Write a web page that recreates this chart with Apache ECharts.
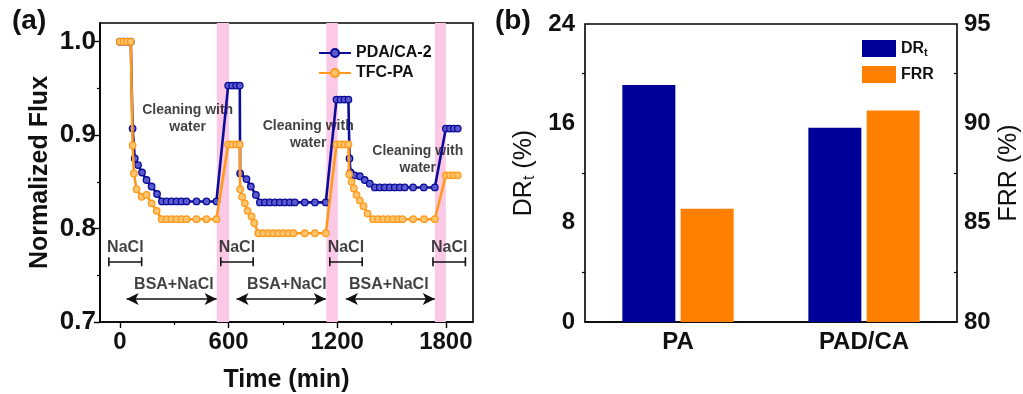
<!DOCTYPE html>
<html>
<head>
<meta charset="utf-8">
<script src="https://cdn.jsdelivr.net/npm/echarts@6/dist/echarts.min.js"></script>
<style>
  html, body { margin: 0; padding: 0; background: #fff; }
  #chart { width: 1023px; height: 394px; }
</style>
</head>
<body>
<div id="chart"></div>
<script>
  // ---- panel (a): normalized flux vs time ----
  const pdaFlux = [
    [0, 1.0], [20, 1.0], [40, 1.0], [60, 1.0],
    [70, 0.907], [82, 0.875], [100, 0.868], [122, 0.860], [147, 0.852], [175, 0.845], [205, 0.837],
    [232, 0.829], [258, 0.829], [285, 0.829], [313, 0.829], [340, 0.829], [368, 0.829], [423, 0.829], [478, 0.829], [533, 0.829],
    [598, 0.953], [620, 0.953], [642, 0.953], [662, 0.953],
    [664, 0.859], [699, 0.853], [723, 0.845], [751, 0.836],
    [773, 0.828], [801, 0.828], [828, 0.828], [856, 0.828], [883, 0.828], [911, 0.828], [939, 0.828], [966, 0.828], [1021, 0.828], [1077, 0.828], [1137, 0.828],
    [1196, 0.938], [1218, 0.938], [1240, 0.938], [1262, 0.938],
    [1268, 0.875], [1274, 0.860], [1297, 0.857], [1325, 0.856], [1352, 0.852], [1380, 0.848],
    [1408, 0.844], [1435, 0.844], [1463, 0.844], [1490, 0.844], [1518, 0.844], [1546, 0.844], [1573, 0.844], [1619, 0.844], [1678, 0.844], [1739, 0.844],
    [1800, 0.907], [1822, 0.907], [1844, 0.907], [1866, 0.907]
  ];
  const tfcFlux = [
    [0, 1.0], [20, 1.0], [40, 1.0], [60, 1.0],
    [70, 0.889], [77, 0.859], [92, 0.842], [120, 0.834], [147, 0.836], [175, 0.827], [203, 0.819],
    [230, 0.810], [258, 0.810], [285, 0.810], [313, 0.810], [340, 0.810], [368, 0.810], [423, 0.810], [478, 0.810], [533, 0.810],
    [598, 0.890], [620, 0.890], [642, 0.890], [662, 0.890],
    [664, 0.842], [675, 0.834], [690, 0.827], [705, 0.819], [727, 0.813], [742, 0.806],
    [764, 0.795], [792, 0.795], [820, 0.795], [847, 0.795], [875, 0.795], [902, 0.795], [930, 0.795], [958, 0.795], [1021, 0.795], [1077, 0.795], [1137, 0.795],
    [1196, 0.890], [1218, 0.890], [1240, 0.890], [1262, 0.890],
    [1266, 0.858], [1279, 0.850], [1292, 0.843], [1307, 0.836], [1325, 0.830], [1345, 0.824], [1368, 0.816],
    [1398, 0.810], [1426, 0.810], [1454, 0.810], [1481, 0.810], [1509, 0.810], [1536, 0.810], [1560, 0.810], [1619, 0.810], [1680, 0.810], [1739, 0.810],
    [1800, 0.857], [1822, 0.857], [1844, 0.857], [1866, 0.857]
  ];
  const timeTicks = [0, 600, 1200, 1800];
  const timeMinorTicks = [300, 900, 1500];
  const fluxTicks = [0.7, 0.8, 0.9, 1.0];
  const fluxMinorTicks = [0.75, 0.85, 0.95];
  // cleaning periods (min)
  const cleanBands = [[535, 603], [1140, 1203], [1740, 1800]];
  // annotation texts (data units: [time, flux])
  const cleanTexts = [[374, 0.918], [1040, 0.900], [1645, 0.8735]];
  const naclTexts = [[30, 0.7795], [646, 0.7795], [1248, 0.7795], [1819, 0.7795]];
  const naclSpans = [[-61, 120], [557, 736], [1159, 1338], [1729, 1908]];
  const bsaTexts = [[298, 0.7395], [922, 0.7395], [1485, 0.7395]];
  const bsaSpans = [[37, 534], [644, 1137], [1248, 1739]];
  const naclY = 0.7645, bsaY = 0.7245;

  // ---- panel (b): DRt and FRR ----
  const membranes = ['PA', 'PAD/CA'];
  const drtValues = [19.08, 15.65];
  const frrValues = [85.70, 90.64];

  const FONT = '"Liberation Sans", Arial, sans-serif';
  const BLUE = '#0c0c98', ORANGE = '#ff9a1c';

  const chart = echarts.init(document.getElementById('chart'));

  const annData = []
    .concat(cleanTexts.map(p => ({ value: p, name: 'Cleaning with\nwater', label: { fontSize: 14, lineHeight: 17, color: '#111' } })))
    .concat(naclTexts.map(p => ({ value: p, name: 'NaCl' })))
    .concat(bsaTexts.map(p => ({ value: p, name: 'BSA+NaCl' })));

  const lineSeg = (span, y, kind) => [
    { coord: [span[0], y], symbol: kind === 'arrow' ? 'arrow' : 'rect', symbolSize: kind === 'arrow' ? [9, 12] : [9, 1.6] },
    { coord: [span[1], y], symbol: kind === 'arrow' ? 'arrow' : 'rect', symbolSize: kind === 'arrow' ? [9, 12] : [9, 1.6] }
  ];

  const axisCommon = {
    axisLine: { onZero: false, lineStyle: { color: '#000', width: 1.6 } },
    axisTick: { lineStyle: { color: '#000', width: 1.4 } },
    splitLine: { show: false },
    nameTextStyle: { fontFamily: FONT, fontWeight: 'bold', fontSize: 25, color: '#111' },
    axisLabel: { fontFamily: FONT, fontWeight: 'bold', fontSize: 24, color: '#111' }
  };
  const hiddenLine = { show: false, onZero: false };

  const option = {
    animation: false,
    backgroundColor: '#fff',
    textStyle: { fontFamily: FONT },
    title: [
      { text: '(a)', left: 7, top: 2, textStyle: { fontFamily: FONT, fontWeight: 'bold', fontSize: 28, color: '#111' } },
      { text: '(b)', left: 490, top: 2, textStyle: { fontFamily: FONT, fontWeight: 'bold', fontSize: 28, color: '#111' } }
    ],
    legend: [
      {
        data: ['PDA/CA-2', 'TFC-PA'],
        orient: 'vertical', left: 318, top: 45, padding: 0,
        itemWidth: 32, itemHeight: 10, itemGap: 4,
        textStyle: { fontFamily: FONT, fontWeight: 'bold', fontSize: 16, color: '#111' }
      },
      {
        data: ['DRt', 'FRR'],
        orient: 'vertical', left: 862, top: 40, padding: 0,
        icon: 'rect', itemWidth: 34, itemHeight: 17, itemGap: 8,
        formatter: n => n === 'DRt' ? '{a|DR}{s|t}' : '{a|FRR}',
        textStyle: {
          fontFamily: FONT, fontSize: 16, color: '#111',
          rich: {
            a: { fontFamily: FONT, fontSize: 16, fontWeight: 'bold', color: '#111' },
            s: { fontFamily: FONT, fontSize: 11, fontWeight: 'bold', color: '#111', padding: [8, 0, 0, 0] }
          }
        }
      }
    ],
    grid: [
      { left: 100, right: 550, top: 23, bottom: 72, outerBoundsMode: 'none', containLabel: false, show: true, borderColor: '#000', borderWidth: 1.6 },
      { left: 585, right: 66, top: 24, bottom: 72, outerBoundsMode: 'none', containLabel: false, show: true, borderColor: '#000', borderWidth: 1.6 }
    ],
    xAxis: [
      Object.assign({}, axisCommon, {
        gridIndex: 0, type: 'value', min: -110, max: 1950,
        name: 'Time (min)', nameLocation: 'middle', nameGap: 46,
        axisTick: { customValues: timeTicks, length: 6, lineStyle: { color: '#000', width: 1.4 } },
        axisLabel: Object.assign({}, axisCommon.axisLabel, { customValues: timeTicks, margin: 8, formatter: v => String(v) })
      }),
      {
        gridIndex: 0, type: 'value', min: -110, max: 1950, position: 'bottom',
        axisLine: hiddenLine, axisLabel: { show: false }, splitLine: { show: false },
        axisTick: { customValues: timeMinorTicks, length: 3, lineStyle: { color: '#000', width: 1.2 } }
      },
      Object.assign({}, axisCommon, {
        gridIndex: 1, type: 'category', data: membranes,
        axisTick: { alignWithLabel: true, length: 6, lineStyle: { color: '#000', width: 1.4 } },
        axisLabel: Object.assign({}, axisCommon.axisLabel, { margin: 8 })
      }),
      {
        gridIndex: 1, type: 'category', data: membranes, position: 'bottom',
        axisLine: hiddenLine, axisLabel: { show: false }, splitLine: { show: false },
        axisTick: { length: 3, lineStyle: { color: '#000', width: 1.2 } }
      }
    ],
    yAxis: [
      Object.assign({}, axisCommon, {
        gridIndex: 0, type: 'value', min: 0.7, max: 1.02,
        name: 'Normalized Flux', nameLocation: 'middle', nameGap: 47, nameRotate: 90,
        axisTick: { customValues: fluxTicks, length: 6, lineStyle: { color: '#000', width: 1.4 } },
        axisLabel: Object.assign({}, axisCommon.axisLabel, { customValues: fluxTicks, margin: 4, fontSize: 26, formatter: v => v.toFixed(1) })
      }),
      {
        gridIndex: 0, type: 'value', min: 0.7, max: 1.02, position: 'left',
        axisLine: hiddenLine, axisLabel: { show: false }, splitLine: { show: false },
        axisTick: { customValues: fluxMinorTicks, length: 3, lineStyle: { color: '#000', width: 1.2 } }
      },
      Object.assign({}, axisCommon, {
        gridIndex: 1, type: 'value', min: 0, max: 24, interval: 8, position: 'left',
        name: '{a|DR}{s|t}{a| (%)}', nameLocation: 'middle', nameGap: 47, nameRotate: 90,
        nameTextStyle: Object.assign({}, axisCommon.nameTextStyle, {
          rich: {
            a: { fontFamily: FONT, fontSize: 25, fontWeight: 'normal', color: '#111' },
            s: { fontFamily: FONT, fontSize: 16, fontWeight: 'normal', color: '#111', padding: [12, 0, 0, 0] }
          }
        }),
        axisTick: { length: 5, lineStyle: { color: '#000', width: 1.4 } },
        minorTick: { show: true, splitNumber: 2, length: 3, lineStyle: { color: '#000', width: 1.2 } },
        axisLabel: Object.assign({}, axisCommon.axisLabel, { margin: 10 })
      }),
      Object.assign({}, axisCommon, {
        gridIndex: 1, type: 'value', min: 80, max: 95, interval: 5, position: 'right',
        name: 'FRR (%)', nameLocation: 'middle', nameGap: 40, nameRotate: 90,
        nameTextStyle: Object.assign({}, axisCommon.nameTextStyle, { fontWeight: 'normal' }),
        axisTick: { inside: true, length: 5, lineStyle: { color: '#000', width: 1.4 } },
        minorTick: { show: true, splitNumber: 2, length: 3, lineStyle: { color: '#000', width: 1.2 } },
        axisLabel: Object.assign({}, axisCommon.axisLabel, { margin: 7 })
      })
    ],
    series: [
      {
        name: 'annotations', type: 'scatter', xAxisIndex: 0, yAxisIndex: 0, z: 1,
        symbolSize: 0, silent: true, data: annData,
        label: {
          show: true, position: 'inside', formatter: p => p.name,
          fontFamily: FONT, fontWeight: 'bold', fontSize: 16, color: '#111'
        },
        markArea: {
          silent: true,
          itemStyle: { color: '#fbc9e6' },
          data: cleanBands.map(b => [{ xAxis: b[0] }, { xAxis: b[1] }])
        },
        markLine: {
          silent: true, label: { show: false },
          lineStyle: { color: '#111', width: 1.6, type: 'solid' },
          data: naclSpans.map(s => lineSeg(s, naclY, 'bar')).concat(bsaSpans.map(s => lineSeg(s, bsaY, 'arrow')))
        }
      },
      {
        name: 'PDA/CA-2', type: 'line', xAxisIndex: 0, yAxisIndex: 0, z: 3,
        data: pdaFlux, symbol: 'circle', symbolSize: 6.5, showAllSymbol: true,
        lineStyle: { color: BLUE, width: 2.6 },
        itemStyle: { color: '#5a5ad0', borderColor: BLUE, borderWidth: 1.3 }
      },
      {
        name: 'TFC-PA', type: 'line', xAxisIndex: 0, yAxisIndex: 0, z: 4,
        data: tfcFlux, symbol: 'circle', symbolSize: 6.5, showAllSymbol: true,
        lineStyle: { color: ORANGE, width: 2.6 },
        itemStyle: { color: '#ffc46e', borderColor: ORANGE, borderWidth: 1.3 }
      },
      {
        name: 'DRt', type: 'bar', xAxisIndex: 2, yAxisIndex: 2,
        data: drtValues, barWidth: 53, barGap: '10%',
        itemStyle: { color: '#000099' }
      },
      {
        name: 'FRR', type: 'bar', xAxisIndex: 2, yAxisIndex: 3,
        data: frrValues, barWidth: 53, barGap: '10%',
        itemStyle: { color: '#ff8000' }
      }
    ]
  };

  chart.setOption(option);
</script>
</body>
</html>
